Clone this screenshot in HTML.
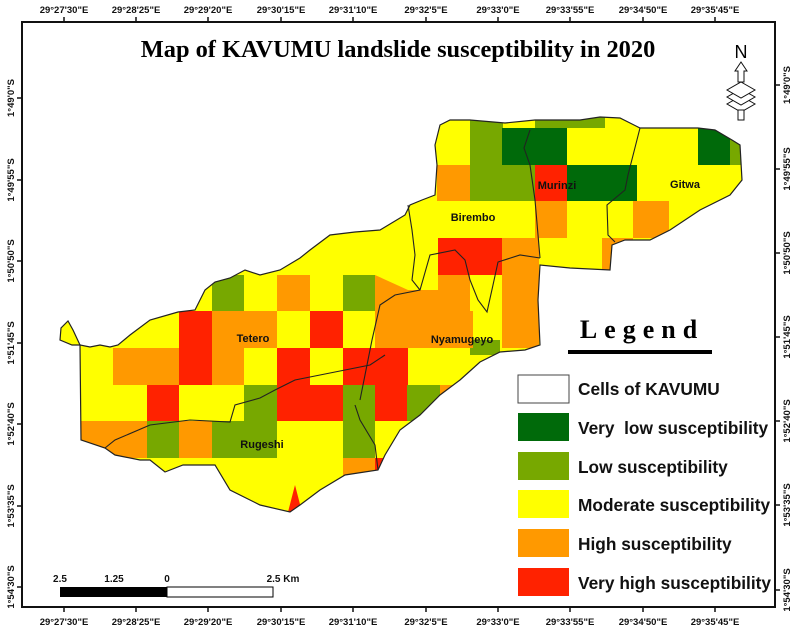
<!DOCTYPE html>
<html><head><meta charset="utf-8"><style>
html,body{margin:0;padding:0;background:#fff;}
svg{display:block;}
.t{font-family:"Liberation Sans",Arial,sans-serif;font-size:9.5px;font-weight:bold;fill:#111;}
.lg{font-family:"Liberation Sans",Arial,sans-serif;font-size:17.3px;font-weight:bold;fill:#111;}
.nm{font-family:"Liberation Sans",Arial,sans-serif;font-size:11px;font-weight:bold;fill:#111;}
</style></head><body>
<svg width="800" height="633" viewBox="0 0 800 633" xmlns="http://www.w3.org/2000/svg">
<defs>
<clipPath id="cl"><path id="outl" d="M80,345 L72,345 L60,340 L61,328 L68,321 L73,330 L80,345 L90,347 L100,345 L110,347 L118,345 L130,335 L150,320 L178,312 L195,310 L205,290 L215,282 L230,278 L245,270 L260,275 L280,270 L300,258 L310,250 L330,235 L355,232 L380,230 L405,215 L410,205 L422,200 L435,195 L437,165 L435,145 L440,125 L450,120 L470,120 L505,123 L535,120 L580,120 L600,117 L620,118 L640,128 L675,128 L698,128 L715,130 L732,140 L740,145 L742,180 L730,195 L700,210 L670,230 L650,240 L625,240 L612,245 L610,270 L570,268 L540,265 L538,300 L540,345 L525,350 L500,352 L480,362 L460,380 L440,395 L420,415 L400,430 L385,455 L378,470 L345,475 L320,490 L300,505 L290,512 L260,505 L230,490 L215,465 L183,465 L165,472 L150,460 L140,460 L115,455 L105,448 L81,440 Z"/></clipPath>
</defs>
<rect x="22" y="22" width="753" height="585" fill="none" stroke="#111" stroke-width="2"/>
<g stroke="#111" stroke-width="1.5">
<line x1="64" y1="17" x2="64" y2="22"/><line x1="136" y1="17" x2="136" y2="22"/><line x1="208" y1="17" x2="208" y2="22"/><line x1="281" y1="17" x2="281" y2="22"/><line x1="353" y1="17" x2="353" y2="22"/><line x1="426" y1="17" x2="426" y2="22"/><line x1="498" y1="17" x2="498" y2="22"/><line x1="570" y1="17" x2="570" y2="22"/><line x1="643" y1="17" x2="643" y2="22"/><line x1="715" y1="17" x2="715" y2="22"/>
<line x1="64" y1="607" x2="64" y2="612"/><line x1="136" y1="607" x2="136" y2="612"/><line x1="208" y1="607" x2="208" y2="612"/><line x1="281" y1="607" x2="281" y2="612"/><line x1="353" y1="607" x2="353" y2="612"/><line x1="426" y1="607" x2="426" y2="612"/><line x1="498" y1="607" x2="498" y2="612"/><line x1="570" y1="607" x2="570" y2="612"/><line x1="643" y1="607" x2="643" y2="612"/><line x1="715" y1="607" x2="715" y2="612"/>
<line x1="17" y1="98" x2="22" y2="98"/><line x1="17" y1="180" x2="22" y2="180"/><line x1="17" y1="261" x2="22" y2="261"/><line x1="17" y1="343" x2="22" y2="343"/><line x1="17" y1="424" x2="22" y2="424"/><line x1="17" y1="506" x2="22" y2="506"/><line x1="17" y1="587" x2="22" y2="587"/>
<line x1="775" y1="85" x2="780" y2="85"/><line x1="775" y1="169" x2="780" y2="169"/><line x1="775" y1="253" x2="780" y2="253"/><line x1="775" y1="337" x2="780" y2="337"/><line x1="775" y1="421" x2="780" y2="421"/><line x1="775" y1="505" x2="780" y2="505"/><line x1="775" y1="590" x2="780" y2="590"/>
</g>
<g class="t" text-anchor="middle">
<text x="64" y="13">29°27'30"E</text><text x="136" y="13">29°28'25"E</text><text x="208" y="13">29°29'20"E</text><text x="281" y="13">29°30'15"E</text><text x="353" y="13">29°31'10"E</text><text x="426" y="13">29°32'5"E</text><text x="498" y="13">29°33'0"E</text><text x="570" y="13">29°33'55"E</text><text x="643" y="13">29°34'50"E</text><text x="715" y="13">29°35'45"E</text>
<text x="64" y="625">29°27'30"E</text><text x="136" y="625">29°28'25"E</text><text x="208" y="625">29°29'20"E</text><text x="281" y="625">29°30'15"E</text><text x="353" y="625">29°31'10"E</text><text x="426" y="625">29°32'5"E</text><text x="498" y="625">29°33'0"E</text><text x="570" y="625">29°33'55"E</text><text x="643" y="625">29°34'50"E</text><text x="715" y="625">29°35'45"E</text>
<text transform="translate(14,98) rotate(-90)">1°49'0"S</text><text transform="translate(14,180) rotate(-90)">1°49'55"S</text><text transform="translate(14,261) rotate(-90)">1°50'50"S</text><text transform="translate(14,343) rotate(-90)">1°51'45"S</text><text transform="translate(14,424) rotate(-90)">1°52'40"S</text><text transform="translate(14,506) rotate(-90)">1°53'35"S</text><text transform="translate(14,587) rotate(-90)">1°54'30"S</text>
<text transform="translate(790,85) rotate(-90)">1°49'0"S</text><text transform="translate(790,169) rotate(-90)">1°49'55"S</text><text transform="translate(790,253) rotate(-90)">1°50'50"S</text><text transform="translate(790,337) rotate(-90)">1°51'45"S</text><text transform="translate(790,421) rotate(-90)">1°52'40"S</text><text transform="translate(790,505) rotate(-90)">1°53'35"S</text><text transform="translate(790,590) rotate(-90)">1°54'30"S</text>
</g>
<text x="398" y="57" text-anchor="middle" style="font-family:'Liberation Serif',serif;font-weight:bold;font-size:24.4px;fill:#000">Map of KAVUMU landslide susceptibility in 2020</text>
<g clip-path="url(#cl)">
<rect x="50" y="100" width="720" height="430" fill="#ffff00"/>
<g fill="#77a800">
<rect x="212" y="275" width="32" height="36"/><rect x="343" y="275" width="32" height="36"/>
<rect x="244" y="385" width="33" height="73"/><rect x="212" y="421" width="32" height="37"/><rect x="147" y="421" width="32" height="37"/>
<rect x="343" y="385" width="32" height="73"/><rect x="407" y="385" width="33" height="36"/>
<rect x="470" y="110" width="33" height="91"/><rect x="503" y="165" width="36" height="36"/><rect x="535" y="110" width="70" height="18"/><rect x="730" y="128" width="15" height="37"/><rect x="470" y="340" width="30" height="15"/>
</g>
<g fill="#006a0a">
<rect x="502" y="128" width="65" height="37"/><rect x="567" y="165" width="70" height="36"/><rect x="698" y="128" width="32" height="37"/>
</g>
<g fill="#ff9900">
<rect x="277" y="275" width="33" height="36"/><polygon points="375,275 408,290 440,311 375,311"/><rect x="408" y="290" width="33" height="21"/>
<rect x="212" y="311" width="65" height="37"/><rect x="375" y="311" width="98" height="37"/>
<rect x="113" y="348" width="66" height="37"/><rect x="212" y="348" width="32" height="37"/>
<rect x="60" y="421" width="87" height="37"/><rect x="179" y="421" width="33" height="37"/><rect x="343" y="458" width="40" height="40"/>
<rect x="437" y="165" width="33" height="36"/><rect x="535" y="201" width="32" height="37"/><rect x="633" y="201" width="36" height="37"/>
<rect x="502" y="238" width="37" height="110"/><rect x="602" y="238" width="31" height="37"/><rect x="438" y="275" width="32" height="36"/>
<rect x="440" y="385" width="16" height="36"/>
</g>
<g fill="#ff2200">
<rect x="179" y="311" width="33" height="74"/><rect x="310" y="311" width="33" height="37"/>
<rect x="277" y="348" width="33" height="37"/><rect x="343" y="348" width="65" height="37"/>
<rect x="147" y="385" width="32" height="36"/><rect x="277" y="385" width="66" height="36"/><rect x="375" y="385" width="32" height="36"/>
<rect x="375" y="458" width="8" height="20"/><polygon points="288,512 295,485 302,512"/>
<rect x="535" y="165" width="32" height="36"/><rect x="438" y="238" width="64" height="37"/>
</g>
</g>
<use href="#outl" fill="none" stroke="#222" stroke-width="1.2"/>
<g fill="none" stroke="#222" stroke-width="1.1">
<polyline points="105,448 115,440 150,425 190,420 230,422 235,405 260,398 275,390 295,380 320,375 345,370 370,365 385,355"/>
<polyline points="360,400 365,375 372,340 380,305 395,295 420,290 430,255 455,250 465,260 470,280 478,300 487,312 493,285 498,262 520,255 540,258"/>
<polyline points="408,205 412,230 415,255 412,280 420,290"/>
<polyline points="530,130 524,148 530,165 535,200 540,258"/>
<polyline points="640,128 628,175 625,190 607,205 608,235 615,242"/>
<polyline points="355,405 360,420 375,445 378,470"/>
</g>
<g class="nm" text-anchor="middle">
<text x="253" y="342">Tetero</text><text x="462" y="343">Nyamugeyo</text><text x="262" y="448">Rugeshi</text><text x="473" y="221">Birembo</text><text x="557" y="189">Murinzi</text><text x="685" y="188">Gitwa</text>
</g>
<g stroke="#111" stroke-width="1" fill="#fff">
<text x="741" y="58" text-anchor="middle" style="font-family:'Liberation Sans',sans-serif;font-size:18px;fill:#000;stroke:none">N</text>
<polygon points="741,62 747,71 744,71 744,82 738,82 738,71 735,71"/>
<polygon points="741,96 755,104 741,112 727,104"/>
<polygon points="741,89 755,97 741,105 727,97"/>
<polygon points="741,82 755,90 741,98 727,90"/>
<rect x="738" y="110" width="6" height="10"/>
</g>
<text x="642" y="338" text-anchor="middle" style="font-family:'Liberation Serif',serif;font-weight:bold;font-size:26px;letter-spacing:7px;fill:#000">Legend</text>
<rect x="568" y="350" width="144" height="4" fill="#000"/>
<rect x="518" y="375" width="51" height="28" fill="#fff" stroke="#444" stroke-width="1"/>
<rect x="518" y="413" width="51" height="28" fill="#006a0a"/>
<rect x="518" y="452" width="51" height="28" fill="#77a800"/>
<rect x="518" y="490" width="51" height="28" fill="#ffff00"/>
<rect x="518" y="529" width="51" height="28" fill="#ff9900"/>
<rect x="518" y="568" width="51" height="28" fill="#ff2200"/>
<g class="lg">
<text x="578" y="395">Cells of KAVUMU</text>
<text x="578" y="434" xml:space="preserve">Very  low susceptibility</text>
<text x="578" y="473">Low susceptibility</text>
<text x="578" y="511">Moderate susceptibility</text>
<text x="578" y="550">High susceptibility</text>
<text x="578" y="589">Very high susceptibility</text>
</g>
<rect x="60" y="587" width="107" height="10" fill="#000"/>
<rect x="167" y="587" width="106" height="10" fill="#fff" stroke="#000" stroke-width="1"/>
<g class="t" style="font-size:10px" text-anchor="middle">
<text x="60" y="582">2.5</text><text x="114" y="582">1.25</text><text x="167" y="582">0</text><text x="283" y="582">2.5 Km</text>
</g>
</svg>
</body></html>
